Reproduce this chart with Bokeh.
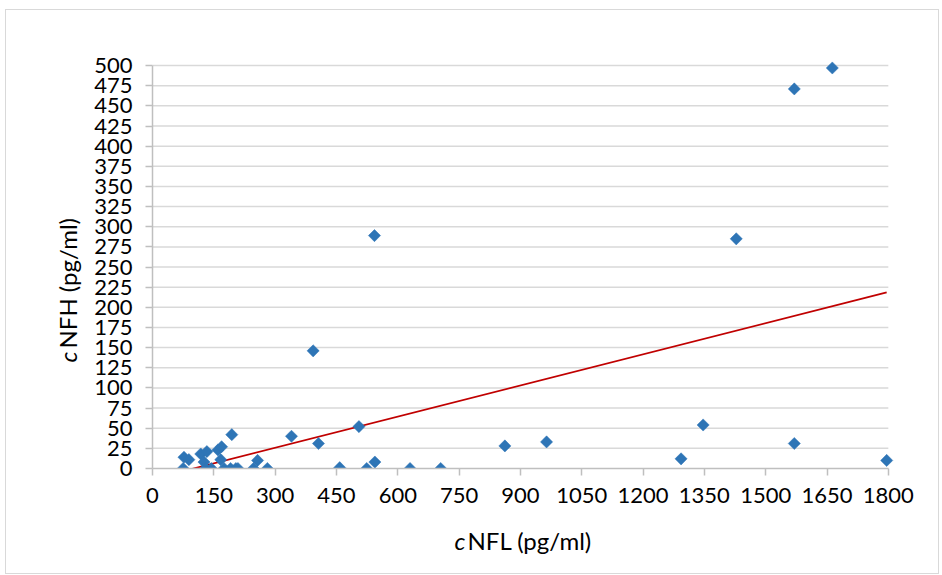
import numpy as np
from bokeh.plotting import figure
from bokeh.models import Label, FixedTicker
from bokeh.embed import file_html
from bokeh.resources import INLINE

# ---- data ----
nfl = [75, 77, 89, 118, 133, 126, 130, 144, 160, 169, 167, 175,
       194, 191, 204, 209, 247, 257, 281,
       340, 393, 406, 458, 505, 524, 543, 544, 630, 705,
       862, 964, 1293, 1347, 1428, 1570, 1570, 1663, 1796]
nfh = [0, 14, 11, 18, 21, 8, 0, 0, 23, 27, 11, 0,
       42, 0, 0, 0, 0, 10, 0,
       40, 146, 31, 1, 52, 0, 289, 8, 0, 0,
       28, 33, 12, 54, 285, 471, 31, 497, 10]
x_ticks = list(range(0, 1801, 150))
y_ticks = list(range(0, 501, 25))
x_title = ("c", "NFL (pg/ml)")
y_title = ("c", "NFH (pg/ml)")

# ---- linear trendline (least squares over the data) ----
slope, intercept = np.polyfit(np.array(nfl, float), np.array(nfh, float), 1)
tx = np.array([min(nfl), max(nfl)], float)
ty = slope * tx + intercept

# ---- layout ----
XMAX, YMAX = 1800, 500
XPAD, YPAD = 20, 10          # room so edge markers are not cut
W, H = 934, 565
ML, MR, MT, MB = 146, 44, 47, 107
OX, OY = 6, 10               # page offset of canvas (margin + border)

p = figure(width=W, height=H, x_range=(0, XMAX + XPAD), y_range=(0, YMAX + YPAD),
           output_backend="svg", toolbar_location=None,
           min_border_left=ML, min_border_right=MR,
           min_border_top=MT, min_border_bottom=MB)
p.styles = {"margin-left": "5px", "margin-top": "9px",
            "border": "1px solid #D9D9D9"}
p.outline_line_color = None
p.background_fill_color = "white"
p.border_fill_color = "white"

p.xgrid.grid_line_color = None
p.ygrid.grid_line_color = None

p.xaxis.ticker = FixedTicker(ticks=x_ticks)
p.yaxis.ticker = FixedTicker(ticks=y_ticks)
p.xaxis.bounds = (0, XMAX)
p.yaxis.bounds = (0, YMAX)
for ax in (p.xaxis, p.yaxis):
    ax.axis_line_color = "#BFBFBF"
    ax.axis_line_width = 1.5
    ax.major_tick_line_color = "#BFBFBF"
    ax.major_tick_line_width = 1.5
    ax.major_tick_out = 7
    ax.major_tick_in = 0
    ax.minor_tick_line_color = None
    ax.major_label_text_font = "Lato"
    ax.major_label_text_font_size = "22px"
    ax.major_label_text_color = "#000000"
p.xaxis.major_label_standoff = 12
p.yaxis.major_label_standoff = 13

# horizontal gridlines limited to the axis extent
gy = [t for t in y_ticks if t > 0]
p.segment(x0=[0] * len(gy), x1=[XMAX] * len(gy), y0=gy, y1=gy,
          line_color="#D9D9D9", line_width=1.5)

p.line(tx, ty, line_color="#C00000", line_width=1.75)
p.scatter(nfl, nfh, marker="square", angle=np.pi / 4, size=8.6,
          fill_color="#2E75B6", line_color="#2E75B6", line_width=0.5)


def cv(px, py):
    return px - OX, py - OY


FONT = "Lato"
FS = "24px"
common = dict(x_units="canvas", y_units="canvas", text_font=FONT,
              text_font_size=FS, text_baseline="bottom",
              text_color="#000000", text_align="left")
# x axis title (in the panel below the frame)
cx, cy = cv(453, 553)
p.add_layout(Label(x=cx, y=cy, text=x_title[0], text_font_style="italic", **common), "below")
cx1, _ = cv(466, 553)
p.add_layout(Label(x=cx1, y=cy, text=x_title[1], **common), "below")
# y axis title (rotated, reading upward, in the panel left of the frame)
ax0, ay0 = cv(80, 361)
p.add_layout(Label(x=ax0, y=ay0, text=y_title[0], text_font_style="italic",
                   angle=np.pi / 2, **common), "left")
_, ay1 = cv(80, 347)
p.add_layout(Label(x=ax0, y=ay1, text=y_title[1], angle=np.pi / 2, **common), "left")

open("out.html", "w").write(file_html(p, INLINE))
